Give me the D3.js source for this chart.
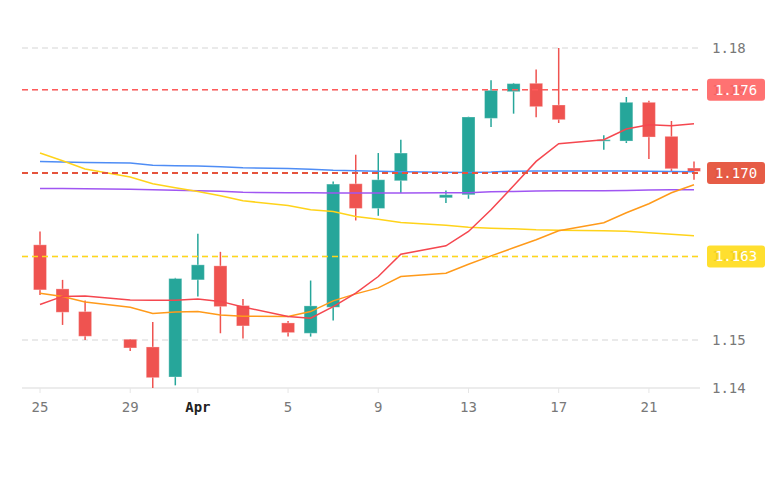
<!DOCTYPE html>
<html>
<head>
<meta charset="utf-8">
<script src="https://cdn.jsdelivr.net/npm/d3@7"></script>
<style>
	html, body { margin: 0; padding: 0; background: #fff; }
	svg { display: block; font-family: "DejaVu Sans Mono", monospace; }
</style>
</head>
<body>
<div id="chart"></div>
<script>
// daily candles, year 2021 (weekly gap days are skipped)
const dates = ["03-25", "03-26", "03-27", "03-29", "03-30", "03-31", "04-01", "04-02", "04-03",
	"04-05", "04-06", "04-07", "04-08", "04-09", "04-10", "04-12", "04-13", "04-14", "04-15",
	"04-16", "04-17", "04-19", "04-20", "04-21", "04-22", "04-23"];

const open = [1.16140, 1.15612, 1.15340, 1.15008, 1.14916, 1.14556, 1.15720, 1.15888, 1.15412,
	1.15204, 1.15080, 1.15392, 1.16872, 1.16576, 1.16908, 1.16704, 1.16740, 1.17656, 1.17976,
	1.18076, 1.17816, 1.17388, 1.17384, 1.17848, 1.17440, 1.17060];
const high = [1.16300, 1.15720, 1.15472, 1.15012, 1.15216, 1.15744, 1.16272, 1.16056, 1.15492,
	1.15228, 1.15712, 1.16900, 1.17220, 1.17240, 1.17400, 1.16792, 1.17676, 1.18112, 1.18080,
	1.18240, 1.18499, 1.17452, 1.17912, 1.17868, 1.17624, 1.17140];
const low = [1.15540, 1.15180, 1.15000, 1.14868, 1.14424, 1.14456, 1.15520, 1.15080, 1.15016,
	1.15040, 1.15040, 1.15232, 1.16432, 1.16488, 1.16760, 1.16640, 1.16692, 1.17552, 1.17712,
	1.17668, 1.17600, 1.17280, 1.17360, 1.17168, 1.17020, 1.16920];
const close = [1.15600, 1.15332, 1.15044, 1.14904, 1.14548, 1.15736, 1.15900, 1.15400, 1.15168,
	1.15088, 1.15408, 1.16868, 1.16576, 1.16920, 1.17240, 1.16740, 1.17672, 1.17992, 1.18072,
	1.17796, 1.17640, 1.17400, 1.17848, 1.17432, 1.17052, 1.17020];

// indicator lines
const maBlue = [1.17140, 1.17132, 1.17128, 1.17120, 1.17094, 1.17088, 1.17084, 1.17076, 1.17064,
	1.17054, 1.17046, 1.17034, 1.17028, 1.17022, 1.17016, 1.17010, 1.17008, 1.17012, 1.17022,
	1.17024, 1.17024, 1.17024, 1.17024, 1.17022, 1.17020, 1.17016];
const maPurple = [1.16816, 1.16814, 1.16812, 1.16806, 1.16800, 1.16794, 1.16788, 1.16782, 1.16770,
	1.16764, 1.16764, 1.16760, 1.16760, 1.16760, 1.16760, 1.16764, 1.16764, 1.16776, 1.16780,
	1.16784, 1.16788, 1.16788, 1.16792, 1.16796, 1.16800, 1.16800];
const maYellow = [1.17240, 1.17148, 1.17048, 1.16952, 1.16872, 1.16824, 1.16780, 1.16728, 1.16668,
	1.16612, 1.16560, 1.16540, 1.16480, 1.16446, 1.16408, 1.16374, 1.16352, 1.16340, 1.16332,
	1.16320, 1.16314, 1.16308, 1.16302, 1.16284, 1.16266, 1.16248];
const maRed = [1.15424, 1.15522, 1.15528, 1.15480, 1.15476, 1.15476, 1.15492, 1.15462, 1.15396,
	1.15280, 1.15260, 1.15400, 1.15560, 1.15760, 1.16028, 1.16128, 1.16300, 1.16560, 1.16848,
	1.17140, 1.17352, 1.17400, 1.17528, 1.17580, 1.17568, 1.17592];
const maOrange = [1.15560, 1.15520, 1.15456, 1.15392, 1.15316, 1.15336, 1.15340, 1.15300, 1.15284,
	1.15280, 1.15340, 1.15468, 1.15552, 1.15624, 1.15760, 1.15800, 1.15908, 1.16008, 1.16104,
	1.16200, 1.16308, 1.16404, 1.16524, 1.16632, 1.16764, 1.16860];

// horizontal price lines: where they sit on the axis and the text in their tag
const levelValues = [1.18, 1.17, 1.16];
const levelLabels = ["1.176", "1.170", "1.163"];

const priceTicks = [1.15, 1.16, 1.17, 1.18];
const dateTicks = ["03-25", "03-29", "04-01", "04-05", "04-09", "04-13", "04-17", "04-21"];

const width = 770;
const height = 489;
const plotLeft = 22;
const plotRight = 700;
const plotTop = 48;
const plotBottom = 388;

const parse = d3.timeParse("%Y-%m-%d");
const day = s => parse("2021-" + s);

const candles = dates.map((d, i) => ({
	date: day(d), open: open[i], high: high[i], low: low[i], close: close[i]
}));

const svg = d3.select("#chart")
	.append("svg")
	.attr("width", width)
	.attr("height", height);

const x = d3.scaleTime()
	.domain([day("03-25"), day("04-23")])
	.range([40, 694]);

const yMin = d3.min(low);
const yMax = d3.max(high);
const y = d3.scaleLinear()
	.domain([yMin, yMax])
	.range([plotBottom, plotTop]);

// grid
svg.append("g")
	.selectAll("line")
	.data([yMax].concat(priceTicks))
	.enter().append("line")
	.attr("x1", plotLeft)
	.attr("x2", plotRight)
	.attr("y1", d => y(d))
	.attr("y2", d => y(d))
	.style("stroke", "#e3e3e3")
	.style("stroke-width", 1.5)
	.style("stroke-dasharray", "6,4");

svg.append("line")
	.attr("x1", plotLeft)
	.attr("x2", plotRight)
	.attr("y1", y(yMin))
	.attr("y2", y(yMin))
	.style("stroke", "#e6e6e6")
	.style("stroke-width", 1.5);

// x axis
const xAxis = svg.append("g");
xAxis.selectAll("line")
	.data(dateTicks)
	.enter().append("line")
	.attr("x1", d => x(day(d)))
	.attr("x2", d => x(day(d)))
	.attr("y1", plotBottom)
	.attr("y2", plotBottom + 5)
	.style("stroke", "#e6e6e6");

xAxis.selectAll("text")
	.data(dateTicks)
	.enter().append("text")
	.attr("x", d => x(day(d)))
	.attr("y", 412)
	.attr("text-anchor", "middle")
	.style("font-size", "14px")
	.style("font-weight", d => day(d).getDate() === 1 ? "bold" : "normal")
	.style("fill", d => day(d).getDate() === 1 ? "#222" : "#787878")
	.text(d => {
		const t = day(d);
		return t.getDate() === 1 ? d3.timeFormat("%b")(t) : d3.timeFormat("%-d")(t);
	});

// y labels (edges of the range plus the round ticks)
svg.append("g")
	.selectAll("text")
	.data([yMin].concat(priceTicks, [yMax]))
	.enter().append("text")
	.attr("x", 712)
	.attr("y", d => y(d))
	.attr("dy", "0.35em")
	.style("font-size", "14px")
	.style("fill", "#787878")
	.text(d => d3.format(".2f")(d));

// candles
const up = "#26a69a";
const down = "#ef5350";
const bodyWidth = 13;
const candle = svg.append("g")
	.selectAll("g")
	.data(candles)
	.enter().append("g")
	.style("color", d => d.close >= d.open ? up : down);

candle.append("line")
	.attr("x1", d => x(d.date))
	.attr("x2", d => x(d.date))
	.attr("y1", d => y(d.high))
	.attr("y2", d => y(d.low))
	.style("stroke", "currentColor")
	.style("stroke-width", 1.5);

candle.append("rect")
	.attr("x", d => x(d.date) - bodyWidth / 2)
	.attr("width", bodyWidth)
	.attr("y", d => y(Math.max(d.open, d.close)))
	.attr("height", d => Math.max(1.5, y(Math.min(d.open, d.close)) - y(Math.max(d.open, d.close))))
	.style("fill", "currentColor")
	.style("stroke", "#fff")
	.style("stroke-opacity", 0.3)
	.style("stroke-width", 1);

// indicator lines
const series = [
	{ values: maBlue, color: "#4f8df5" },
	{ values: maPurple, color: "#a056f2" },
	{ values: maYellow, color: "#ffd31a" },
	{ values: maOrange, color: "#ff9a1a" },
	{ values: maRed, color: "#f5474f" }
];

const line = d3.line()
	.x((d, i) => x(candles[i].date))
	.y(d => y(d));

svg.append("g")
	.selectAll("path")
	.data(series)
	.enter().append("path")
	.attr("d", d => line(d.values))
	.style("fill", "none")
	.style("stroke", d => d.color)
	.style("stroke-width", 1.5);

// price lines with tags (the tags sit over the round tick labels, as in the original)
const levelColors = ["#ff5b5b", "#e5533c", "#ffd71a"];
const tagColors = ["#ff5f5f", "#e5533c", "#ffdb12"];

const level = svg.append("g")
	.selectAll("g")
	.data(levelValues)
	.enter().append("g");

level.append("line")
	.attr("x1", plotLeft)
	.attr("x2", plotRight)
	.attr("y1", d => y(d))
	.attr("y2", d => y(d))
	.style("stroke", (d, i) => levelColors[i])
	.style("stroke-width", (d, i) => i === 1 ? 2 : 1.5)
	.style("stroke-dasharray", "6,4");

level.append("rect")
	.attr("x", 707)
	.attr("y", d => y(d) - 11)
	.attr("width", 58)
	.attr("height", 22)
	.attr("rx", 3)
	.style("fill", (d, i) => tagColors[i])
	.style("fill-opacity", (d, i) => i === 1 ? 0.95 : 0.88);

level.append("text")
	.attr("x", 736)
	.attr("y", d => y(d))
	.attr("dy", "0.35em")
	.attr("text-anchor", "middle")
	.style("font-size", "14px")
	.style("fill", "#fff")
	.text((d, i) => levelLabels[i]);
</script>
</body>
</html>
